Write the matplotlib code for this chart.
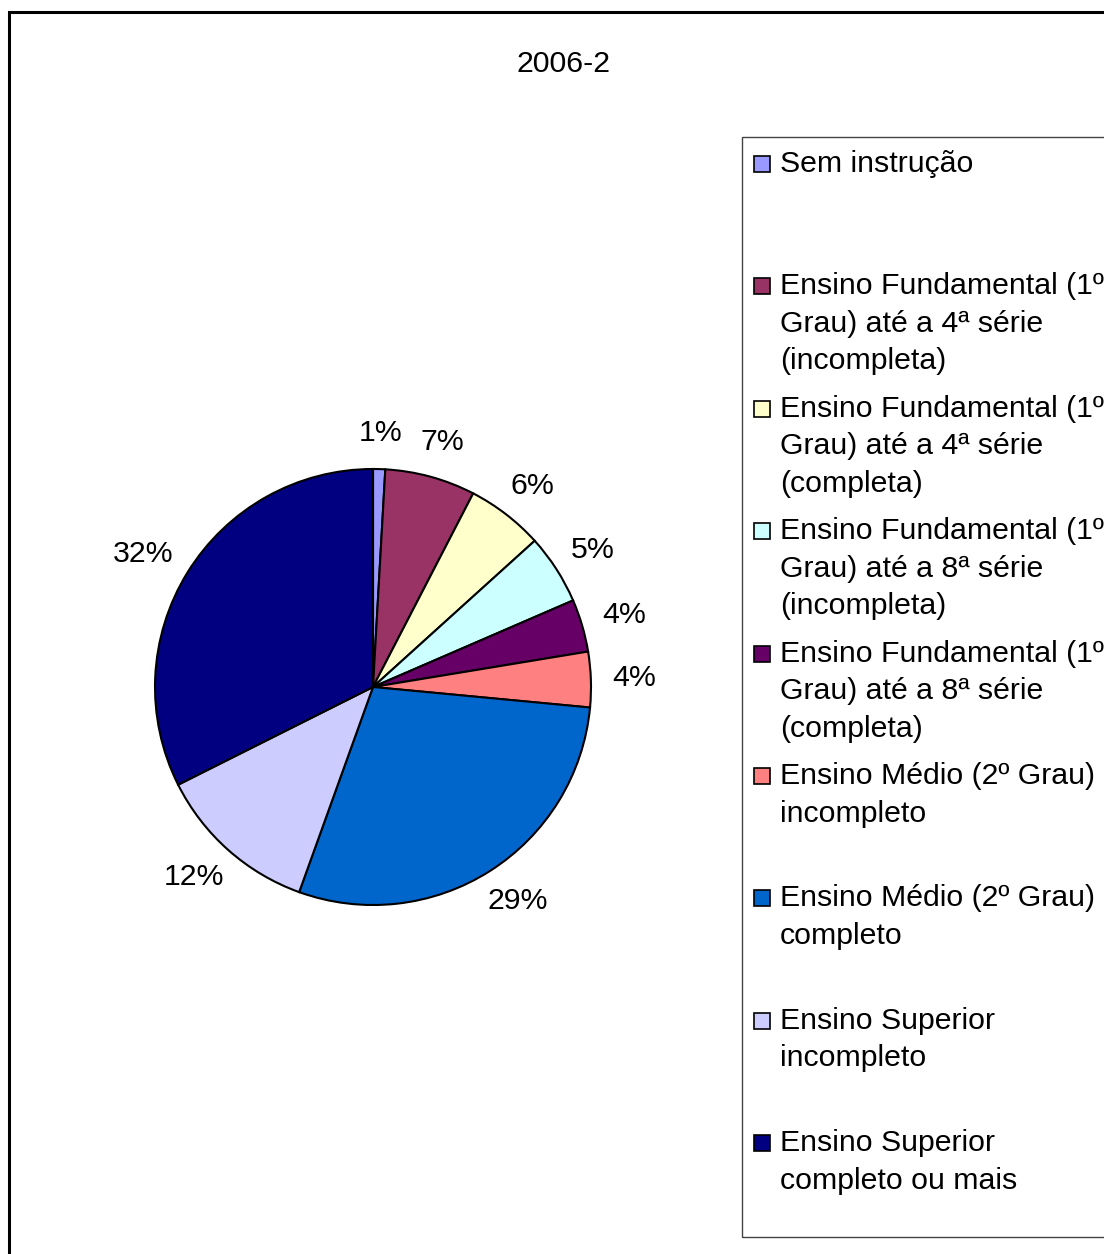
import numpy as np
import matplotlib
matplotlib.use("Agg")
import matplotlib.pyplot as plt
from matplotlib.patches import Rectangle

plt.rcParams["font.family"] = ["Liberation Sans", "DejaVu Sans"]

# ---------- DATA ----------
title = "2006-2"
categories = [
    "Sem instrução",
    "Ensino Fundamental (1º\nGrau) até a 4ª série\n(incompleta)",
    "Ensino Fundamental (1º\nGrau) até a 4ª série\n(completa)",
    "Ensino Fundamental (1º\nGrau) até a 8ª série\n(incompleta)",
    "Ensino Fundamental (1º\nGrau) até a 8ª série\n(completa)",
    "Ensino Médio (2º Grau)\nincompleto",
    "Ensino Médio (2º Grau)\ncompleto",
    "Ensino Superior\nincompleto",
    "Ensino Superior\ncompleto ou mais",
]
shares = [0.9, 6.7, 5.7, 5.2, 3.9, 4.1, 29.0, 12.1, 32.4]
colors = ["#9999FF", "#993366", "#FFFFCC", "#CCFFFF", "#660066",
          "#FF8080", "#0066CC", "#CCCCFF", "#000080"]

FS = 21.8

# ---------- FIGURE ----------
W, H = 1104, 1254
fig = plt.figure(figsize=(W / 100, H / 100), dpi=100)


def fx(x):
    return x / W


def fy(y):
    return 1 - y / H


# outer chart border (runs off the right and bottom edges)
fig.patches.append(Rectangle((fx(9), fy(1270)), fx(1120) - fx(9), fy(12) - fy(1270),
                             transform=fig.transFigure, fill=False,
                             edgecolor="black", linewidth=2.2))

fig.text(fx(564), fy(72), title, ha="center", va="baseline", fontsize=FS)

# pie
cx, cy, r = 373, 687, 218
ax = fig.add_axes([fx(cx - r), fy(cy + r), 2 * r / W, 2 * r / H])
wedges, texts, autotexts = ax.pie(
    shares, colors=colors, startangle=90, counterclock=False,
    autopct="%1.0f%%", pctdistance=1.2,
    wedgeprops=dict(edgecolor="black", linewidth=1.5),
    textprops=dict(fontsize=FS, color="black"),
)
ax.set_xlim(-1, 1)
ax.set_ylim(-1, 1)
ax.axis("off")

# push each percentage label so its box sits just outside the rim (Excel style)
renderer = fig.canvas.get_renderer()
for w, t in zip(wedges, autotexts):
    ang = np.deg2rad((w.theta1 + w.theta2) / 2)
    ux, uy = np.cos(ang), np.sin(ang)
    bb = t.get_window_extent(renderer)
    hw, hh = bb.width / 2 / r, bb.height / 2 / r
    t.set_position((ux * 1.1 + ux * hw, uy * 1.1 + uy * hh))
    t.set_ha("center")
    t.set_va("center")

# legend box (cut by the right edge)
fig.patches.append(Rectangle((fx(742), fy(1237)), fx(1120) - fx(742), fy(137) - fy(1237),
                             transform=fig.transFigure, fill=False,
                             edgecolor="#444444", linewidth=1.0))

first_baseline = 172
entry_step = 122.4
line_step = 37.5
for i, (label, c) in enumerate(zip(categories, colors)):
    base = first_baseline + i * entry_step
    fig.patches.append(Rectangle((fx(754), fy(base)), 16 / W, 16 / H,
                                 transform=fig.transFigure, facecolor=c,
                                 edgecolor="black", linewidth=1.2))
    for j, line in enumerate(label.split("\n")):
        fig.text(fx(780), fy(base + j * line_step), line,
                 ha="left", va="baseline", fontsize=FS)

plt.savefig("out.png", dpi=100)
